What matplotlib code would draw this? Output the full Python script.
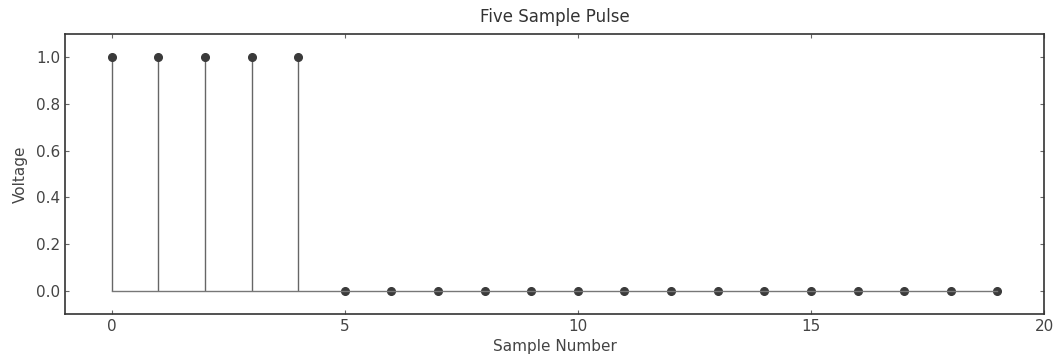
import numpy as np
import matplotlib
matplotlib.use('Agg')
import matplotlib.pyplot as plt

# pulse samples: five ones followed by zeros
samples = list(range(20))
voltage = [1, 1, 1, 1, 1, 0, 0, 0, 0, 0, 0, 0, 0, 0, 0, 0, 0, 0, 0, 0]

fig = plt.figure(figsize=(10.61, 3.58), dpi=100)
ax = fig.add_axes([0.0613, 0.1229, 0.9227, 0.782])

markerline, stemlines, baseline = ax.stem(samples, voltage)
plt.setp(markerline, color='#3a3a3a', markersize=5.5)
plt.setp(stemlines, color='#666666', linewidth=1.0)
plt.setp(baseline, color='#777777', linewidth=1.0)

ax.set_xlim(-1, 20)
ax.set_ylim(-0.1, 1.1)
ax.set_xticks([0, 5, 10, 15, 20])
ax.set_yticks([0.0, 0.2, 0.4, 0.6, 0.8, 1.0])
ax.tick_params(direction='in', top=True, right=True, colors='#666666',
               labelcolor='#444444', labelsize=11, length=3)
for s in ax.spines.values():
    s.set_color('#333333')
    s.set_linewidth(1.2)

ax.set_title('Five Sample Pulse', fontsize=12, color='#333333', pad=9)
ax.set_xlabel('Sample Number', fontsize=11, color='#444444', labelpad=4)
ax.set_ylabel('Voltage', fontsize=11, color='#444444', labelpad=6)

fig.savefig('out.png', dpi=100)
